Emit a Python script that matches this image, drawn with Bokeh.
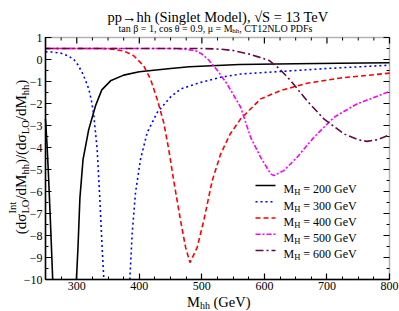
import math
from bokeh.plotting import figure
from bokeh.models import Range1d, SingleIntervalTicker, Label, LinearAxis, BoxAnnotation
from bokeh.embed import file_html
from bokeh.resources import INLINE

nan = float("nan")

# ---------------- data ----------------
mh_labels = ["200", "300", "400", "500", "600"]

x_200 = [250, 252.5, 255, 257.5, 260, 261.5, nan, 299.5, 302, 305, 310, 319, 330, 340, 354,
         375, 400, 450, 480, 560, 650, 720, 800]
y_200 = [-2.7, -3.9, -5.4, -7.1, -8.9, -10, nan, -10, -8.5, -6.3, -4.55, -3.2, -2.1, -1.38, -0.97,
         -0.71, -0.56, -0.41, -0.33, -0.23, -0.19, -0.17, -0.15]

x_300 = [250, 260, 274, 285, 295, 302, 308.6, 314, 319.3, 324, 327.3, 332.6, 336.9, 340.6, 343.3, nan,
         384.8, 388.6, 393.9, 401.9, 412.6, 428.6, 450, 466, 498, 530, 562, 650, 705, 800]
y_300 = [0.35, 0.34, 0.29, 0.18, 0.01, -0.25, -0.59, -0.95, -1.35, -1.95, -2.56, -4.08, -6.36, -8.6, -10, nan,
         -10, -7.9, -6.05, -4.54, -3.32, -2.41, -1.7, -1.34, -1.04, -0.81, -0.66, -0.5, -0.4, -0.26]

x_400 = [250, 340, 356, 375, 391, 407, 418, 428.6, 439, 447, 455, 466, 474, 481, 492.5, 503, 516.5,
         530, 545, 562, 594, 626, 668, 722, 800]
y_400 = [0.5, 0.5, 0.47, 0.39, 0.17, -0.29, -0.9, -1.81, -2.87, -4.08, -5.51, -7.33, -8.54, -9.23, -8.54,
         -7.33, -5.51, -4.3, -3.4, -2.7, -1.79, -1.41, -1.08, -0.84, -0.62]

x_500 = [250, 450, 470, 490, 500, 510, 525, 540, 562, 578, 594, 610, 615, 631, 652, 679, 711, 748, 800]
y_500 = [0.5, 0.5, 0.48, 0.4, 0.25, 0.0, -0.5, -1.1, -2.17, -3.54, -4.45, -5.2, -5.28, -5.05, -4.45,
         -3.54, -2.63, -2.02, -1.45]

x_600 = [250, 500, 530, 550, 575, 590, 608, 625, 642, 668, 695, 727, 750, 764, 780, 800]
y_600 = [0.5, 0.5, 0.47, 0.41, 0.25, 0.12, -0.05, -0.45, -0.96, -1.87, -2.7, -3.38, -3.65, -3.72, -3.65, -3.42]

series_x = [x_200, x_300, x_400, x_500, x_600]
series_y = [y_200, y_300, y_400, y_500, y_600]

# ---------------- styles / geometry ----------------
colors = ["#000000", "#0000ff", "#ff0000", "#ff00ff", "#670748"]
dashes = ["solid", "2 3", "5 3", "5 2 2 2", "8 3 2 3"]
SERIF = "Liberation Serif"

X0, X1, Y0, Y1 = 250, 800, -10, 1
XMAJ, XMIN_N = 100, 4
YMAJ, YMIN_N = 1, 2
W, H = 399, 311
# plot box inside the canvas (page pixels)
FL, FR, FT, FB = 45, 389, 37, 279
KX = (X1 - X0) / (FR - FL)
KY = (Y1 - Y0) / (FB - FT)

# the Bokeh frame covers the whole canvas so that text outside the box is not clipped
p = figure(width=W, height=H, output_backend="svg", toolbar_location=None,
           x_range=Range1d(X0 - FL * KX, X1 + (W - FR) * KX),
           y_range=Range1d(Y0 - (H - FB) * KY, Y1 + FT * KY),
           x_axis_location=None, y_axis_location=None,
           min_border_left=0, min_border_right=0, min_border_top=0, min_border_bottom=0)
p.xgrid.visible = False
p.ygrid.visible = False
p.outline_line_color = None
p.background_fill_color = "white"
p.border_fill_color = "white"

xaxis = LinearAxis(ticker=SingleIntervalTicker(interval=XMAJ, num_minor_ticks=XMIN_N),
                   fixed_location=Y0, bounds=(X0, X1))
yaxis = LinearAxis(ticker=SingleIntervalTicker(interval=YMAJ, num_minor_ticks=YMIN_N),
                   fixed_location=X0, bounds=(Y0, Y1))
for ax in (xaxis, yaxis):
    ax.major_tick_in = 6
    ax.major_tick_out = 0
    ax.minor_tick_in = 3
    ax.minor_tick_out = 0
    ax.axis_line_color = "black"
    ax.axis_line_width = 1.5
    ax.major_tick_line_color = "black"
    ax.minor_tick_line_color = "black"
    ax.major_tick_line_width = 1.2
    ax.minor_tick_line_width = 1
    ax.major_label_text_font = SERIF
    ax.major_label_text_color = "black"
    ax.major_label_text_font_size = "12px"
    ax.major_label_standoff = 3
xaxis.major_label_standoff = 2
p.add_layout(xaxis, "below")
p.add_layout(yaxis, "left")

# frame box
p.add_layout(BoxAnnotation(left=X0, right=X1, bottom=Y0, top=Y1, fill_color=None,
                           line_color="black", line_width=1.5))

# inward ticks on the top and right edges (mirror of the axes' ticks)
xt_major = [v for v in range(X0, X1 + 1, 25) if v % XMAJ == 0]
xt_minor = [v for v in range(X0, X1 + 1, 25) if v % XMAJ != 0]
yt_major = [float(v) for v in range(Y0, Y1 + 1)]
yt_minor = [v + 0.5 for v in range(Y0, Y1)]
p.ray(xt_major, [Y1] * len(xt_major), length=6, length_units="screen", angle=-math.pi / 2,
      line_color="black", line_width=1.2)
p.ray(xt_minor, [Y1] * len(xt_minor), length=3, length_units="screen", angle=-math.pi / 2,
      line_color="black", line_width=1)
p.ray([X1] * len(yt_major), yt_major, length=6, length_units="screen", angle=math.pi,
      line_color="black", line_width=1.2)
p.ray([X1] * len(yt_minor), yt_minor, length=3, length_units="screen", angle=math.pi,
      line_color="black", line_width=1)

for xs, ys, c, d in zip(series_x, series_y, colors, dashes):
    p.line(xs, ys, line_color=c, line_width=1.6, line_dash=d)


# ---------------- text helpers (page pixels -> screen units) ----------------
WID = {' ': 250, '(': 333, ')': 333, '/': 278, ',': 250, '.': 250, '=': 564, '→': 1000, '√': 549,
       'σ': 550, 'β': 500, 'θ': 500, 'μ': 500,
       'A': 722, 'C': 667, 'D': 722, 'F': 556, 'G': 722, 'H': 722, 'I': 333, 'L': 611, 'M': 889,
       'N': 722, 'O': 722, 'P': 556, 'S': 556, 'T': 611, 'V': 722,
       'a': 444, 'c': 444, 'd': 500, 'e': 444, 'g': 500, 'h': 500, 'i': 278, 'l': 278, 'n': 500,
       'o': 500, 'p': 500, 's': 389, 't': 278}


def tw(txt, size):
    return sum(WID.get(ch, 500) for ch in txt) / 1000.0 * size


def label(px, py, txt, size, align="left", angle=0.0, color="black"):
    p.add_layout(Label(x=px, y=H - py, x_units="screen", y_units="screen", text=txt,
                       text_font=SERIF, text_font_size=f"{size}px", text_color=color,
                       text_align=align, text_baseline="alphabetic", angle=angle))


def runs(px, py, parts, vertical=False):
    """parts: (text, size, shift_down_px, advance)"""
    pos = 0.0
    for txt, size, shift, adv in parts:
        lead = len(txt) - len(txt.lstrip(" "))
        off = tw(" " * lead, size)
        body = txt.lstrip(" ")
        if vertical:
            label(px + shift, py - pos - off, body, size, angle=math.pi / 2)
        else:
            label(px + pos + off, py + shift, body, size)
        if adv:
            pos += adv if isinstance(adv, float) else tw(txt, size)
    return pos


# title & subtitle
label(217.5, 16.5, "pp→hh (Singlet Model), √S = 13 TeV", 14.5, align="center")
runs(118, 28.3, [("tan β = 1, cos θ = 0.9, μ = M", 10, 0, True),
                 ("hh", 7, 2.2, True),
                 (", CT12NLO PDFs", 10, 0, True)])

# x axis label
runs(186.5, 301.5, [("M", 14.5, 0, True), ("hh", 10, 3.0, True), (" (GeV)", 14.5, 0, True)])

# y axis label (rotated)
M, S = 15, 10.5
ylab = [("(dσ", M, 0, True),
        ("Int", S, -8.0, False), ("LO", S, 4.5, float(tw("LO", S))),
        ("/dM", M, 0, True), ("hh", S, 4.5, True),
        (")/(dσ", M, 0, True), ("LO", S, 4.5, True),
        ("/dM", M, 0, True), ("hh", S, 4.5, True), (")", M, 0, True)]
total = sum((a if isinstance(a, float) else tw(t, s)) for t, s, _, a in ylab if a)
runs(20, 156.5 + total / 2, ylab, vertical=True)

# legend
for i, (lab, c, d) in enumerate(zip(mh_labels, colors, dashes)):
    ly = 185 + 16.25 * i
    xa = X0 + (255 - FL) * KX
    xb = X0 + (275 - FL) * KX
    yl = Y1 - (ly - FT) * KY
    p.line([xa, xb], [yl, yl], line_color=c, line_width=1.6, line_dash=d)
    runs(283, ly + 3.8, [("M", 12, 0, True), ("H", 8.5, 3, True), (f" = {lab} GeV", 12, 0, True)])

open("out.html", "w").write(file_html(p, INLINE))
